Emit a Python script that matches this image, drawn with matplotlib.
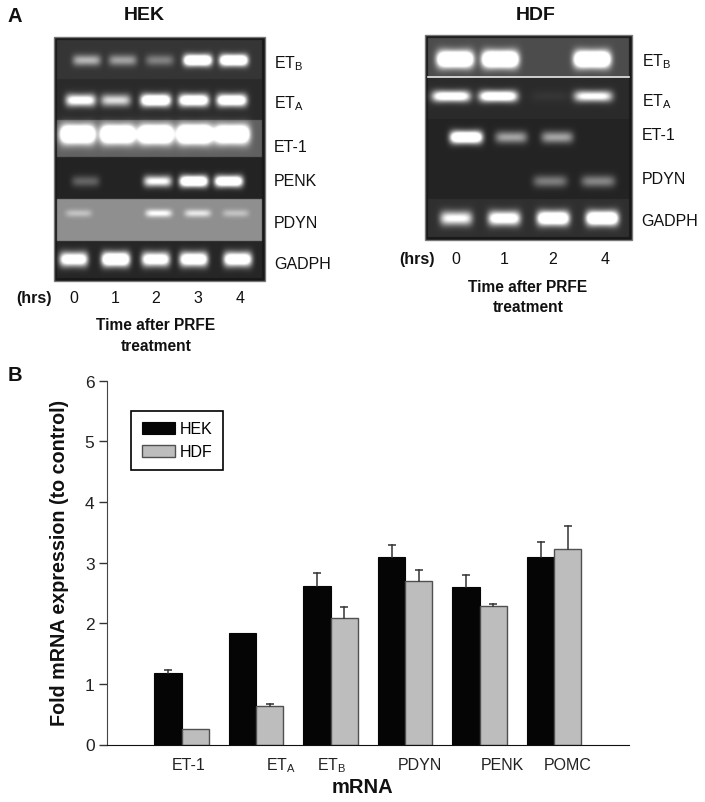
import numpy as np
import matplotlib
matplotlib.use("Agg")
import matplotlib.pyplot as plt
from matplotlib.patches import Rectangle

plt.rcParams['font.family'] = ['Liberation Sans', 'DejaVu Sans']
plt.rcParams['mathtext.fontset'] = 'custom'
plt.rcParams['mathtext.rm'] = 'Liberation Sans'

# bar chart data
genes = ['ET-1', r'ET$_{\mathrm{A}}$', r'ET$_{\mathrm{B}}$', 'PDYN', 'PENK', 'POMC']
hek_vals = [1.18, 1.84, 2.61, 3.09, 2.59, 3.09]
hdf_vals = [0.25, 0.63, 2.09, 2.69, 2.28, 3.23]
hek_err = [0.05, 0.0, 0.21, 0.20, 0.20, 0.24]
hdf_err = [0.0, 0.04, 0.18, 0.19, 0.03, 0.37]

# gel data, band brightness per lane for each row
hek_rows = ['ETB', 'ETA', 'ET-1', 'PENK', 'PDYN', 'GADPH']
hek_bands = [[0.5, 0.42, 0.3, 1.5, 1.5],
             [1.0, 0.7, 1.4, 1.3, 1.3],
             [1.5, 1.5, 1.6, 1.7, 1.5],
             [0.25, 0.0, 0.9, 1.5, 1.4],
             [0.2, 0.0, 0.45, 0.35, 0.2],
             [1.2, 1.5, 1.2, 1.3, 1.3]]
hek_hours = ['0', '1', '2', '3', '4']

hdf_rows = ['ETB', 'ETA', 'ET-1', 'PDYN', 'GADPH']
hdf_bands = [[1.6, 1.7, 0.0, 1.7],
             [1.1, 1.2, 0.04, 0.9],
             [1.5, 0.5, 0.5, 0.0],
             [0.0, 0.0, 0.35, 0.38],
             [0.85, 1.1, 1.4, 1.5]]
hdf_hours = ['0', '1', '2', '4']

W, H = 705, 803
fig = plt.figure(figsize=(W / 100, H / 100), dpi=100)

# full figure overlay in pixel units for the gels and all loose text
pix = fig.add_axes([0, 0, 1, 1])
pix.set_xlim(0, W)
pix.set_ylim(H, 0)
pix.axis('off')


def draw_gel(box, row_tops, row_bg, band_y, band_x, half_w, half_h, bands):
    x0, x1, y0, y1 = box
    xx, yy = np.meshgrid(np.arange(x0, x1, 0.5), np.arange(y0, y1, 0.5))
    img = np.full(xx.shape, 0.10)
    # row backgrounds
    for r in range(len(row_bg)):
        m = (yy >= row_tops[r]) & (yy < row_tops[r + 1]) & (xx >= x0 + 3) & (xx < x1 - 3)
        img[m] = row_bg[r]
    # bands, a little fatter at the ends like real ones
    for r in range(len(bands)):
        for c in range(len(bands[r])):
            if bands[r][c] == 0:
                continue
            dx = (xx - band_x[r][c]) / half_w[r]
            hh = half_h[r] * (1 + 0.1 * np.clip(bands[r][c], 0, 1)
                              * (np.abs(dx) ** 2 - 0.4))
            dy = (yy - band_y[r]) / hh
            img += bands[r][c] * np.exp(-np.abs(dx) ** 5) * np.exp(-dy ** 2)
    pix.imshow(np.clip(img, 0, 1), cmap='gray', vmin=0, vmax=1,
               extent=(x0, x1, y1, y0), aspect='auto', interpolation='bilinear',
               zorder=1)
    pix.add_patch(Rectangle((x0, y0), x1 - x0, y1 - y0, fill=False,
                            ec='#777777', lw=1, zorder=2))


# HEK gel
draw_gel((53.5, 264.5, 38, 282),
         [41, 80, 121, 158, 200, 242, 279],
         [0.21, 0.17, 0.38, 0.14, 0.56, 0.15],
         [61, 101, 135, 182, 214, 260],
         [[86, 122, 159, 197, 233],
          [80, 115, 155, 193, 231],
          [77, 117, 155, 194, 231],
          [85, 122, 157, 193, 228],
          [78, 118, 158, 197, 235],
          [73, 115, 155, 193, 237]],
         [14, 15, 17.5, 14, 13, 14],
         [5.5, 6, 9, 5.5, 3.8, 7],
         hek_bands)

# HDF gel
draw_gel((425, 632, 36, 241),
         [39, 78, 120, 160, 200, 238],
         [0.30, 0.17, 0.14, 0.14, 0.19],
         [60, 97, 138, 182, 219],
         [[455, 500, 550, 592],
          [451, 498, 550, 593],
          [466, 511, 557, 600],
          [505, 520, 550, 598],
          [456, 504, 553, 602]],
         [18, 19, 16, 17, 16],
         [8, 5.5, 6, 6, 7],
         hdf_bands)
pix.plot([428, 629], [78, 78], color='#e8e8e8', lw=1.2, zorder=3)
pix.set_xlim(0, W)
pix.set_ylim(H, 0)


def txt(x, y, s, size=11.5, bold=False, ha='center'):
    pix.text(x, y, s, fontsize=size, fontweight='bold' if bold else 'normal',
             ha=ha, va='center', color='#111111')


txt(8, 16, 'A', 14.5, True, 'left')
txt(8, 376, 'B', 14.5, True, 'left')
txt(144, 16, 'HEK', 14, True)
txt(535.5, 16, 'HDF', 14, True)

# row names next to the gels
for name, y in zip(hek_rows, [64, 104, 147, 182, 223, 265]):
    if name in ('ETA', 'ETB'):
        name = 'ET$_{\\mathrm{%s}}$' % name[2]
    txt(274, y, name, 11.5, False, 'left')
for name, y in zip(hdf_rows, [62, 102, 136, 179, 221]):
    if name in ('ETA', 'ETB'):
        name = 'ET$_{\\mathrm{%s}}$' % name[2]
    txt(641.5, y, name, 11.5, False, 'left')

# hours under the gels
txt(34, 299, '(hrs)', 11.5, True)
for h, x in zip(hek_hours, [74, 115, 156, 198, 240]):
    txt(x, 299, h)
txt(417, 260, '(hrs)', 11.5, True)
for h, x in zip(hdf_hours, [456, 504, 553, 605]):
    txt(x, 260, h)

txt(156, 326, 'Time after PRFE', 11.2, True)
txt(156, 347, 'treatment', 11.2, True)
txt(528, 288, 'Time after PRFE', 11.2, True)
txt(528, 308, 'treatment', 11.2, True)

# panel B bars
ax = fig.add_axes([107 / W, 1 - 745.5 / H, (628.7 - 107) / W, (745.5 - 381.5) / H])
x = np.arange(len(genes))
w = 0.365
ax.bar(x - w / 2, hek_vals, w, color='#050505', edgecolor='#050505', linewidth=0.8, label='HEK')
ax.bar(x + w / 2, hdf_vals, w, color='#bdbdbd', edgecolor='#505050', linewidth=1.0, label='HDF')

# upper error bars only, none where the error is zero
for xs, vals, errs in [(x - w / 2, hek_vals, hek_err), (x + w / 2, hdf_vals, hdf_err)]:
    for xi, v, e in zip(xs, vals, errs):
        if e > 0:
            ax.plot([xi, xi], [v, v + e], color='#333333', lw=1.1)
            ax.plot(xi, v + e, marker='_', ms=6, mew=1.1, color='#333333')

ax.set_xlim(-1, 6)
ax.set_ylim(0, 6)
ax.set_yticks(range(7))
ax.tick_params(axis='y', length=6, width=1, labelsize=12.5, pad=3, color='#333333',
               labelcolor='#222222')
# labels do not sit under the group centres in the original
ax.set_xticks([0.09, 1.33, 2.01, 3.2, 4.3, 5.18])
ax.set_xticklabels(genes, fontsize=11.5, color='#222222', va='baseline')
ax.tick_params(axis='x', length=0, pad=17.5)
ax.spines['top'].set_visible(False)
ax.spines['right'].set_visible(False)
ax.spines['left'].set_color('#444444')
ax.spines['bottom'].set_color('#111111')

leg = ax.legend(loc='upper left', bbox_to_anchor=((131 - 107) / 521.7, (745.5 - 411.5) / 364),
                frameon=True, fancybox=False, framealpha=1, edgecolor='black',
                fontsize=11.5, handlelength=2.05, handleheight=0.8, handletextpad=0.3,
                labelspacing=0.5, borderpad=0.68, borderaxespad=0)
leg.get_frame().set_linewidth(1.2)

pix.text(60, 563, 'Fold mRNA expression (to control)', fontsize=14.2, fontweight='bold',
         rotation=90, ha='center', va='center', color='#111111')
txt(362.5, 788, 'mRNA', 14.5, True)

fig.savefig('out.png', dpi=100)
